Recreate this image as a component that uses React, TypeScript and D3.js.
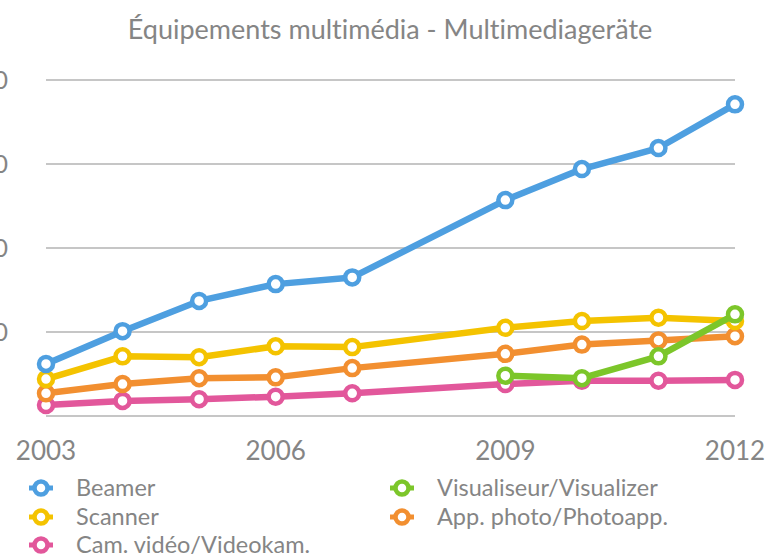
import React from "react";
import * as d3 from "d3";

const years = [2003, 2004, 2005, 2006, 2007, 2008, 2009, 2010, 2011, 2012];
const xTickYears = [2003, 2006, 2009, 2012];
const yTicks = [100, 200, 300, 400];
const title = "Équipements multimédia - Multimediageräte";

const beamer = [62, 101, 137, 157, 165, null, 257, 294, 319, 371];
const scanner = [44, 71, 70, 83, 82, null, 105, 113, 117, 113];
const visualiseur = [null, null, null, null, null, null, 48, 45, 71, 121];
const photo = [27, 38, 45, 46, 57, null, 74, 85, 90, 95];
const camera = [13, 18, 20, 23, 27, null, 38, 42, 42, 43];

const seriesNames = ["Beamer", "Scanner", "Visualiseur/Visualizer", "App. photo/Photoapp.", "Cam. vidéo/Videokam."];
const seriesColors = ["#4e9fe0", "#f4c300", "#7cc62a", "#f28f30", "#e2579b"];
const seriesData = [beamer, scanner, visualiseur, photo, camera];

export default function App() {
  const W = 774, H = 557;
  const x = d3.scaleLinear().domain([2003, 2012]).range([46, 735]);
  const y = d3.scaleLinear().domain([0, 400]).range([416, 80]);
  const font = "'Lato', 'Open Sans', sans-serif";
  const grey = "#858585";
  const txtStyle = { fontVariantLigatures: "none" as const };

  const drawOrder = [4, 3, 1, 2, 0];
  const legendPos = [
    { x: 41, y: 488, i: 0 },
    { x: 41, y: 517, i: 1 },
    { x: 41, y: 545, i: 4 },
    { x: 402, y: 488, i: 2 },
    { x: 402, y: 517, i: 3 },
  ];

  return (
    <svg width={W} height={H} style={{ position: "absolute", left: 0, top: 0, background: "#fff" }}>
      <text x={390} y={39} textAnchor="middle" fontFamily={font} fontSize={27} fill={grey} style={txtStyle}>{title}</text>
      {[0, ...yTicks].map((t) => (
        <line key={"g" + t} x1={46} x2={735} y1={y(t)} y2={y(t)} stroke="#c6c6c6" strokeWidth={2} />
      ))}
      {yTicks.map((t) => (
        <text key={"yl" + t} x={8} y={y(t) + 9} textAnchor="end" fontFamily={font} fontSize={25} fill={grey} style={txtStyle}>{t}</text>
      ))}
      {xTickYears.map((t) => (
        <text key={"xl" + t} x={x(t)} y={460} textAnchor="middle" fontFamily={font} fontSize={26} fill={grey} style={txtStyle}>{t}</text>
      ))}
      {drawOrder.map((si) => {
        const pts = years.map((yr, j) => ({ yr, v: seriesData[si][j] })).filter((p) => p.v !== null) as { yr: number; v: number }[];
        const line = d3.line<{ yr: number; v: number }>().x((p) => x(p.yr)).y((p) => y(p.v));
        return (
          <g key={"s" + si}>
            <path d={line(pts) || ""} fill="none" stroke={seriesColors[si]} strokeWidth={6.5} strokeLinejoin="round" />
            {pts.map((p) => (
              <circle key={p.yr} cx={x(p.yr)} cy={y(p.v)} r={7} fill="#fff" stroke={seriesColors[si]} strokeWidth={4.5} />
            ))}
          </g>
        );
      })}
      {legendPos.map((l) => (
        <g key={"lg" + l.i}>
          <line x1={l.x - 12} x2={l.x + 12} y1={l.y} y2={l.y} stroke={seriesColors[l.i]} strokeWidth={5} />
          <circle cx={l.x} cy={l.y} r={6.5} fill="#fff" stroke={seriesColors[l.i]} strokeWidth={4.5} />
          <text x={l.x + 35} y={l.y + 8} fontFamily={font} fontSize={23.5} fill={grey} style={txtStyle}>{seriesNames[l.i]}</text>
        </g>
      ))}
    </svg>
  );
}
